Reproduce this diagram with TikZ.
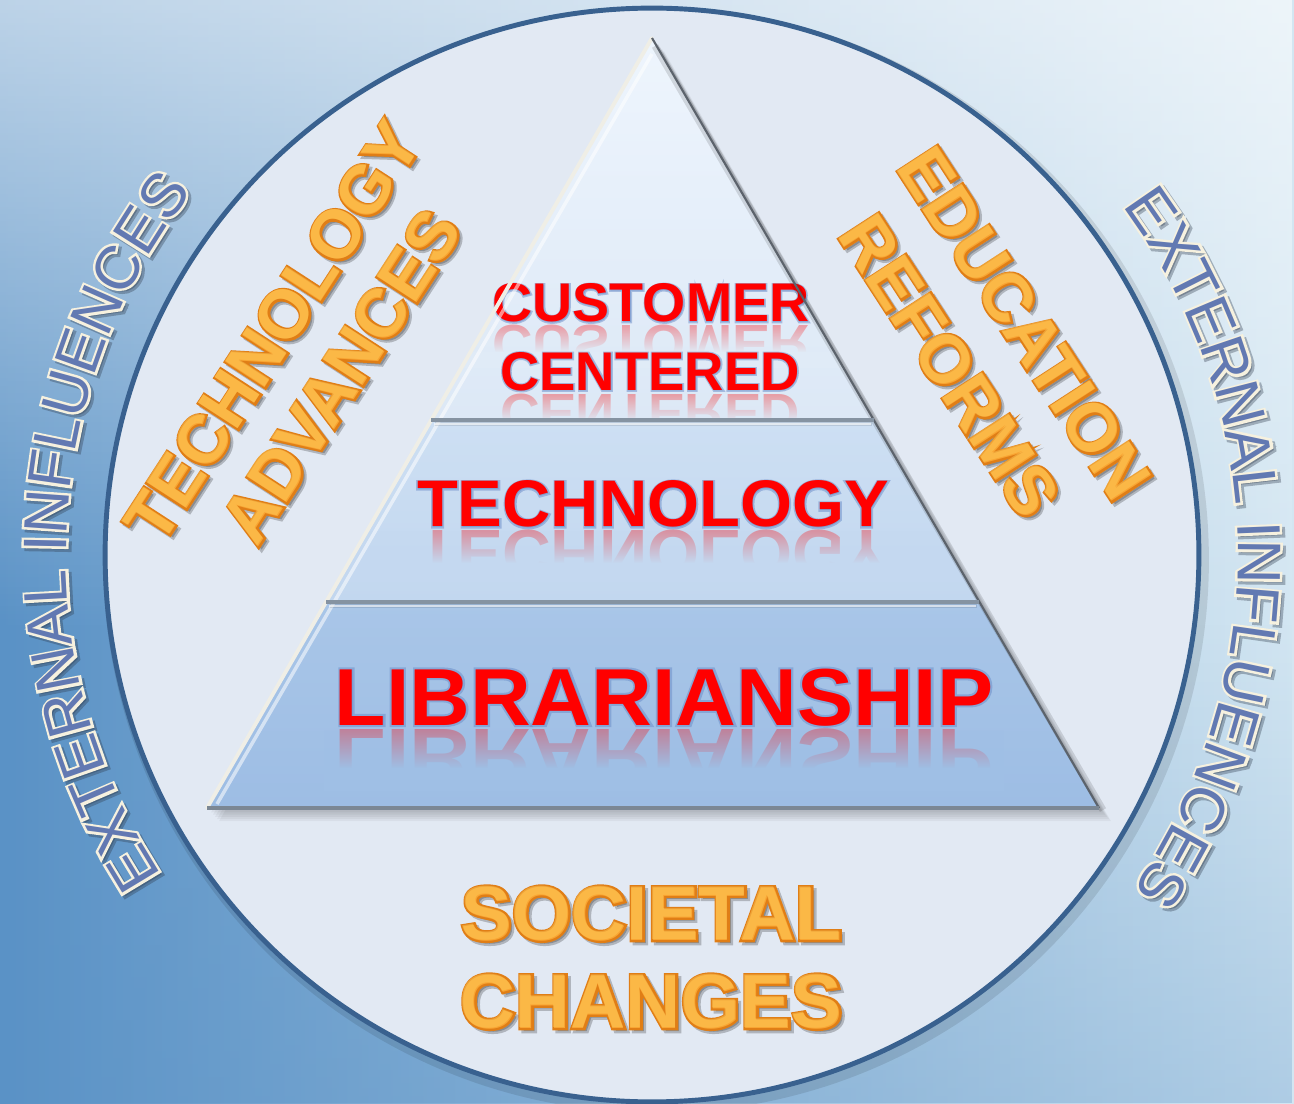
\documentclass[tikz,border=0pt]{standalone}
\usepackage{fontspec}
\setmainfont{Liberation Sans}
% stroked faces used for halos, rims and shadows behind the lettering
\newfontfamily\haloface[FakeBold=5]{Liberation Sans Bold}
\newfontfamily\rimface[FakeBold=6]{Liberation Sans Bold}
\newfontfamily\ringrimface[FakeBold=8]{Liberation Sans}
\usetikzlibrary{calc,decorations.text,fadings}

\definecolor{skyDark}{HTML}{5A92C6}
\definecolor{skyLight}{HTML}{D3E6F2}
\definecolor{discFill}{HTML}{E2E9F3}
\definecolor{discRim}{HTML}{39618F}
\definecolor{tierOneTop}{HTML}{EEF5FD}
\definecolor{tierOneBot}{HTML}{DCE8F6}
\definecolor{tierTwoTop}{HTML}{CDDFF3}
\definecolor{tierTwoBot}{HTML}{C2D7EF}
\definecolor{tierThreeTop}{HTML}{A9C6E8}
\definecolor{tierThreeBot}{HTML}{9DBDE4}
\definecolor{bevelCream}{HTML}{EFEEE6}
\definecolor{edgeDark}{HTML}{5C636C}
\definecolor{ledgeGray}{HTML}{8593A2}
\definecolor{baseGray}{HTML}{7B8794}
\definecolor{wordRed}{HTML}{FF0000}
\definecolor{wordHalo}{HTML}{6A8CC8}
\definecolor{orangeEdge}{HTML}{E07E16}
\definecolor{orangeFill}{HTML}{F9A532}
\definecolor{orangeGlow}{HTML}{FFD060}
\definecolor{extFill}{HTML}{6279B2}
\definecolor{extEdge}{HTML}{F6F1DF}
\definecolor{extShade}{HTML}{2F3B4C}

% red tier caption with a fading mirror image below its baseline;
% the mirror image and its fade stay inside the tier outline
\newcommand\tierword[8]{% name, x, baseline y, size (pt), x stretch, tier colour there, tier outline, text
  \begin{scope}
    \clip #7;
    \node[redword={#4}, xscale=#5, yscale=-1, opacity=0.32] at (#2,#3-4) {#8};
    \fill[#6] (#2-340,{#3-4-1.35*#4}) rectangle (#2+340,{#3-4-0.85*#4});
    \fill[#6, path fading=north] (#2-340,{#3-4-0.85*#4}) rectangle (#2+340,#3-4);
  \end{scope}
  \node[redword={#4}, xscale=#5, font=\haloface\fontsize{#4}{#4}\selectfont,
        text=wordHalo, opacity=0.5] at (#2,#3) {#8};
  \node[redword={#4}, xscale=#5] (#1) at (#2,#3) {#8};
}

% embossed orange caption
\newcommand\bevelword[6]{% name, x, baseline y, angle, size (pt), text
  \node[orangeword={#5}, font=\rimface\fontsize{#5}{#5}\selectfont, rotate=#4,
        text=black, opacity=0.22] at ($(#2,#3)+(3,-3)$) {#6};
  \node[orangeword={#5}, font=\rimface\fontsize{#5}{#5}\selectfont, rotate=#4,
        text=orangeEdge] at (#2,#3) {#6};
  \node[orangeword={#5}, rotate=#4, text=orangeFill] (#1) at (#2,#3) {#6};
  \node[orangeword={#5}, rotate=#4, text=orangeGlow, opacity=0.45] at ($(#2,#3)+(-0.7,0.7)$) {#6};
}

\begin{document}
\begin{tikzpicture}[x=0.02cm, y=0.02cm,
  redword/.style={inner sep=0pt, anchor=base, text=wordRed,
    font=\bfseries\fontsize{#1}{#1}\selectfont},
  orangeword/.style={inner sep=0pt, anchor=base,
    font=\bfseries\fontsize{#1}{#1}\selectfont},
  ringpath/.style 2 args={decorate, decoration={text along path, text align=center,
    text={|#1\fontsize{35}{35}\selectfont\color{#2}|EXTERNAL INFLUENCES}}}]

\useasboundingbox (0,0) rectangle (1294,1103);

% sky backdrop
\shade[left color=skyDark, right color=skyLight] (0,0) rectangle (1294,1103);
\fill[white, opacity=0.6, path fading=south] (0,480) rectangle (1294,1103);
\fill[skyDark, opacity=0.3, path fading=north] (0,0) rectangle (1294,480);

% disc
\coordinate (ctr) at (652,548);
\fill[black, opacity=0.10] ($(ctr)+(4,-5)$) circle[radius=11.06cm];
\draw[discRim, line width=2.8pt, fill=discFill] (ctr) circle[radius=10.94cm];

% lettering around the disc, outside the rim
\foreach \sa/\ea in {232.4/122.4, 55.85/-54.15}{
  \begin{scope}[opacity=0.35]
    \path[ringpath={\ringrimface}{extShade}]
      ($(ctr)+(\sa:11.72cm)+(3,-3)$) arc[start angle=\sa, end angle=\ea, radius=11.72cm];
  \end{scope}
  \path[ringpath={\ringrimface}{extEdge}]
    ($(ctr)+(\sa:11.72cm)$) arc[start angle=\sa, end angle=\ea, radius=11.72cm];
  \path[ringpath={\mdseries}{extFill}]
    ($(ctr)+(\sa:11.72cm)$) arc[start angle=\sa, end angle=\ea, radius=11.72cm];
}

% pyramid corners and ledges
\coordinate (A)  at (652,1065);
\coordinate (BL) at (207,295);
\coordinate (BR) at (1099,295);
\coordinate (L1) at (431,683);
\coordinate (R1) at (874,683);
\coordinate (L2) at (326,501);
\coordinate (R2) at (979,501);

% soft shadow
\foreach \i in {1,...,6}
  \fill[black, opacity=0.045] ($(BL)+(2*\i,-2.2*\i)$) -- ($(BR)+(2*\i,-2.2*\i)$) -- ($(A)+(2*\i,-2.2*\i)$) -- cycle;

% tiers
\shade[top color=tierOneTop, bottom color=tierOneBot] (A) -- (R1) -- (L1) -- cycle;
\shade[top color=tierTwoTop, bottom color=tierTwoBot] (L1) -- (R1) -- (R2) -- (L2) -- cycle;
\shade[top color=tierThreeTop, bottom color=tierThreeBot] (L2) -- (R2) -- (BR) -- (BL) -- cycle;

% tier captions
\tierword{cust}{651}{781}{31}{1.02}{tierOneBot!80!tierOneTop}{(A) -- (R1) -- (L1) -- cycle}{CUSTOMER}
\tierword{cent}{650}{712.5}{31}{1.0}{tierOneBot!95!tierOneTop}{(A) -- (R1) -- (L1) -- cycle}{CENTERED}
\tierword{tech}{653}{576}{37.5}{1.015}{tierTwoBot!80!tierTwoTop}{(L1) -- (R1) -- (R2) -- (L2) -- cycle}{TECHNOLOGY}
\tierword{lib}{664}{378}{46}{1.04}{tierThreeBot!80!tierThreeTop}{(L2) -- (R2) -- (BR) -- (BL) -- cycle}{LIBRARIANSHIP}

% bevels and ledges
\draw[white, opacity=0.55, line width=2pt] ($(BL)+(10,4)$) -- ($(A)+(0,-16)$);
\draw[bevelCream, line width=2.2pt, line cap=round] (BL) -- (A);
\draw[black, opacity=0.12, line width=4pt] ($(A)+(3,-8)$) -- ($(BR)+(4,-2)$);
\draw[edgeDark, line width=1.2pt] (A) -- (BR);
\draw[black, opacity=0.10, line width=3pt] ($(L1)+(4,-3)$) -- ($(R1)+(-2,-3)$);
\draw[ledgeGray, line width=2.4pt] (L1) -- (R1);
\draw[white, opacity=0.6, line width=0.8pt] ($(L1)+(3,-4)$) -- ($(R1)+(-3,-4)$);
\draw[black, opacity=0.10, line width=3pt] ($(L2)+(4,-3)$) -- ($(R2)+(-2,-3)$);
\draw[ledgeGray, line width=2.4pt] (L2) -- (R2);
\draw[white, opacity=0.6, line width=0.8pt] ($(L2)+(3,-4)$) -- ($(R2)+(-3,-4)$);
\draw[baseGray, line width=2.2pt] (BL) -- (BR);

% forces acting on the pyramid
\bevelword{techadv1}{293}{758}{57}{39}{TECHNOLOGY}
\bevelword{techadv2}{361}{714}{57}{39}{ADVANCES}
\bevelword{edu1}{1005}{766.5}{-57}{39}{EDUCATION}
\bevelword{edu2}{930}{724}{-57}{39}{REFORMS}
\bevelword{soc1}{651.5}{163}{0}{43.5}{SOCIETAL}
\bevelword{soc2}{651.5}{75}{0}{43.5}{CHANGES}

\end{tikzpicture}
\end{document}
